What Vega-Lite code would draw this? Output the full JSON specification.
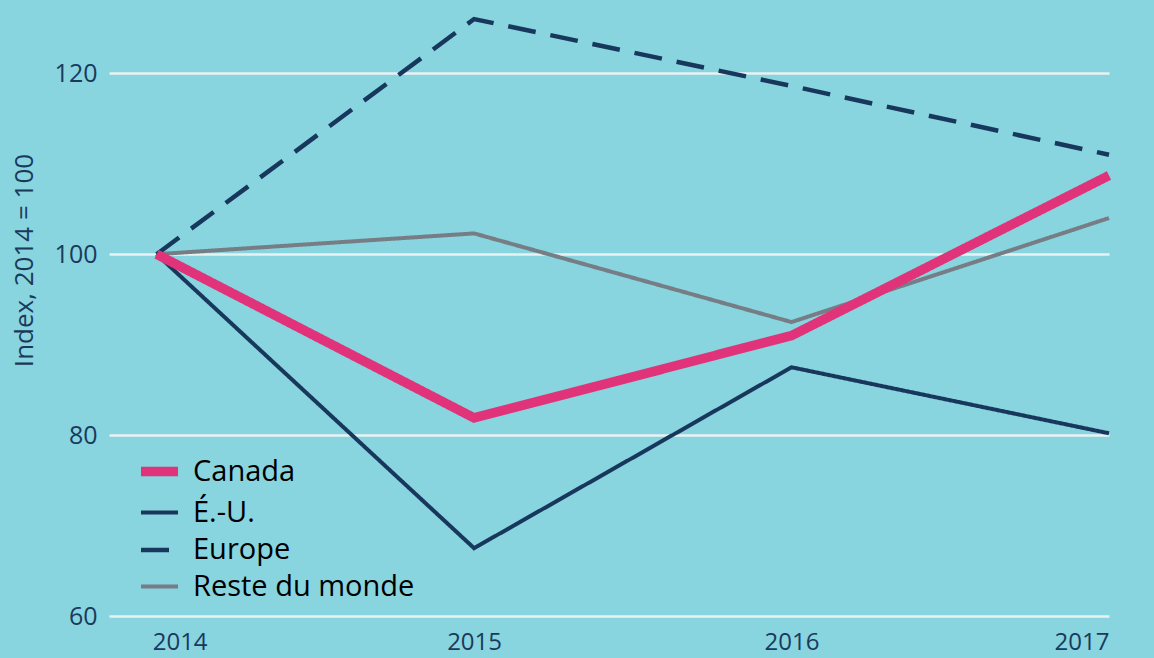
{
  "$schema": "https://vega.github.io/schema/vega-lite/v6.json",
  "autosize": {"type": "none"},
  "padding": {"left": 109, "top": 10, "right": 45, "bottom": 42},
  "width": 1000,
  "height": 606,
  "background": "#88d4df",
  "config": {
    "view": {"stroke": null},
    "font": "Open Sans"
  },
  "data": {
    "values": [
      {"year": 2014, "series": "Reste du monde", "value": 100},
      {"year": 2015, "series": "Reste du monde", "value": 102.3},
      {"year": 2016, "series": "Reste du monde", "value": 92.5},
      {"year": 2017, "series": "Reste du monde", "value": 104.0},
      {"year": 2014, "series": "Europe", "value": 100},
      {"year": 2015, "series": "Europe", "value": 126.0},
      {"year": 2016, "series": "Europe", "value": 118.6},
      {"year": 2017, "series": "Europe", "value": 111.0},
      {"year": 2014, "series": "É.-U.", "value": 100},
      {"year": 2015, "series": "É.-U.", "value": 67.5},
      {"year": 2016, "series": "É.-U.", "value": 87.5},
      {"year": 2017, "series": "É.-U.", "value": 80.2},
      {"year": 2014, "series": "Canada", "value": 100},
      {"year": 2015, "series": "Canada", "value": 81.9},
      {"year": 2016, "series": "Canada", "value": 91.0},
      {"year": 2017, "series": "Canada", "value": 108.7}
    ]
  },
  "mark": {"type": "line", "strokeCap": "butt", "strokeJoin": "miter"},
  "encoding": {
    "x": {
      "field": "year",
      "type": "quantitative",
      "scale": {"domain": [2013.85, 2017], "nice": false, "zero": false},
      "axis": {
        "values": [2014, 2015, 2016, 2017],
        "format": "d",
        "title": null,
        "grid": false,
        "domain": false,
        "ticks": false,
        "labelPadding": 33,
        "labelFontSize": 24,
        "labelColor": "#1a3a5c",
        "labelFont": "Open Sans",
        "labelBaseline": "alphabetic",
        "labelOffset": {"condition": {"test": "datum.value === 2014", "value": 23}, "value": 0}
      }
    },
    "y": {
      "field": "value",
      "type": "quantitative",
      "scale": {"domain": [60, 127], "nice": false, "zero": false},
      "axis": {
        "values": [60, 80, 100, 120],
        "title": "Index, 2014 = 100",
        "titleFontSize": 26,
        "titleFontWeight": "normal",
        "titleColor": "#1a3a5c",
        "titleFont": "Open Sans",
        "titleY": 250,
        "titleX": -77,
        "titleAngle": -90,
        "titleBaseline": "alphabetic",
        "grid": true,
        "gridColor": "#e9f2f3",
        "gridWidth": 2.5,
        "domain": false,
        "ticks": false,
        "labelPadding": 12,
        "labelFontSize": 25,
        "labelColor": "#1a3a5c",
        "labelFont": "Open Sans"
      }
    },
    "color": {
      "field": "series",
      "type": "nominal",
      "scale": {
        "domain": ["Canada", "É.-U.", "Europe", "Reste du monde"],
        "range": ["#e0337a", "#18375c", "#18375c", "#767d85"]
      },
      "legend": {
        "orient": "none",
        "legendX": 27,
        "legendY": 438,
        "title": null,
        "symbolType": "stroke",
        "symbolSize": 1369,
        "labelFontSize": 29,
        "labelColor": "#000000",
        "labelFont": "Open Sans",
        "labelOffset": 10,
        "labelLimit": 400,
        "rowPadding": 1
      }
    },
    "strokeWidth": {
      "field": "series",
      "type": "nominal",
      "scale": {
        "type": "ordinal",
        "domain": ["Canada", "É.-U.", "Europe", "Reste du monde"],
        "range": [9.5, 4, 4.5, 4]
      },
      "legend": null
    },
    "strokeDash": {
      "field": "series",
      "type": "nominal",
      "scale": {
        "domain": ["Canada", "É.-U.", "Europe", "Reste du monde"],
        "range": [[1, 0], [1, 0], [28, 15], [1, 0]]
      },
      "legend": null
    }
  }
}
